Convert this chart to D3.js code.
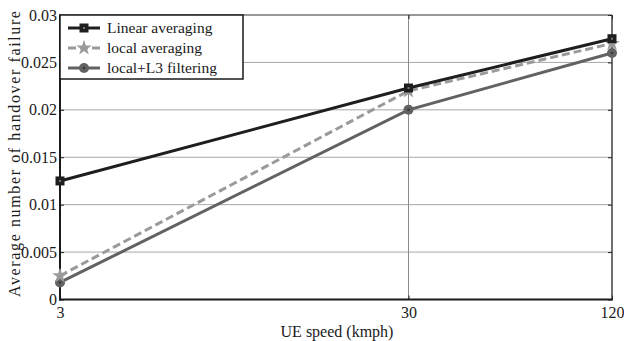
<!DOCTYPE html>
<html>
<head>
<meta charset="utf-8">
<script src="https://cdn.jsdelivr.net/npm/d3@7"></script>
<style>
  html, body { margin: 0; padding: 0; background: #fff; }
  svg { display: block; }
</style>
</head>
<body>
<svg id="chart" width="624" height="341" font-family="Liberation Serif"></svg>
<script>
// ---- data ----
const speeds = [3, 30, 120];
const xTickLabels = ["3", "30", "120"];
const yTicks = [0, 0.005, 0.01, 0.015, 0.02, 0.025, 0.03];
const yTickLabels = ["0", "0.005", "0.01", "0.015", "0.02", "0.025", "0.03"];
const seriesNames = ["Linear averaging", "local averaging", "local+L3 filtering"];
const linearAveraging = [0.0125, 0.0223, 0.0275];
const localAveraging = [0.0025, 0.0220, 0.0270];
const localL3Filtering = [0.0018, 0.0200, 0.0260];

(function () {
const FONT = "Liberation Serif";
const svg = d3.select("#chart");
const pL = 60, pR = 612, pT = 15, pB = 299.5;

const x = d3.scaleLog().domain([3, 30, 120]).range([pL, 408.5, pR]);
const y = d3.scaleLinear().domain([0, 0.03]).range([pB, pT]);

// grid
svg.append("g").selectAll("line").data(yTicks.slice(1, -1)).join("line")
  .attr("x1", pL).attr("x2", pR)
  .attr("y1", d => y(d)).attr("y2", d => y(d))
  .attr("stroke", "#a8a8a8").attr("stroke-width", 1);
svg.append("line")
  .attr("x1", x(30)).attr("x2", x(30)).attr("y1", pT).attr("y2", pB)
  .attr("stroke", "#8a8a8a").attr("stroke-width", 1);

// axes (ticks inward)
const yAxisL = d3.axisLeft(y).tickValues(yTicks).tickFormat((d, i) => yTickLabels[i]).tickSize(-4).tickPadding(3);
const yAxisR = d3.axisRight(y).tickValues(yTicks).tickFormat("").tickSize(-4);
const xAxisB = d3.axisBottom(x).tickValues(speeds).tickFormat((d, i) => xTickLabels[i]).tickSize(-4).tickPadding(4);
const xAxisT = d3.axisTop(x).tickValues(speeds).tickFormat("").tickSize(-4);

function style(g) {
  g.attr("font-family", FONT);
  g.select(".domain").remove();
  g.selectAll(".tick line").attr("stroke", "#222").attr("stroke-width", 1);
  g.selectAll(".tick text").attr("fill", "#1a1a1a").attr("font-size", 16)
    .attr("font-family", FONT);
}
svg.append("g").attr("transform", `translate(${pL},0)`).call(yAxisL).call(style);
svg.append("g").attr("transform", `translate(${pR},0)`).call(yAxisR).call(style);
const gx = svg.append("g").attr("transform", `translate(0,${pB})`).call(xAxisB).call(style);
gx.selectAll(".tick text").attr("dy", "0.9em");
svg.append("g").attr("transform", `translate(0,${pT})`).call(xAxisT).call(style);

// frame
svg.append("line").attr("x1", pL).attr("x2", pL).attr("y1", pT - 0.5).attr("y2", pB + 1)
  .attr("stroke", "#1a1a1a").attr("stroke-width", 2);
svg.append("line").attr("x1", pL - 1).attr("x2", pR + 1).attr("y1", pB).attr("y2", pB)
  .attr("stroke", "#1a1a1a").attr("stroke-width", 2);
svg.append("line").attr("x1", pL).attr("x2", pR).attr("y1", pT).attr("y2", pT)
  .attr("stroke", "#333").attr("stroke-width", 1.2);
svg.append("line").attr("x1", pR).attr("x2", pR).attr("y1", pT).attr("y2", pB)
  .attr("stroke", "#333").attr("stroke-width", 1.4);

// series
const series = [
  { name: seriesNames[0], values: linearAveraging, color: "#1e1e1e", dash: null, marker: "square" },
  { name: seriesNames[1], values: localAveraging, color: "#9a9a9a", dash: "8,4", marker: "star" },
  { name: seriesNames[2], values: localL3Filtering, color: "#626262", dash: null, marker: "circle" }
];

const line = d3.line().x(d => x(d[0])).y(d => y(d[1]));

function drawMarker(g, type, cx, cy, color) {
  if (type === "square") {
    g.append("rect").attr("x", cx - 4.5).attr("y", cy - 4.5).attr("width", 9).attr("height", 9)
      .attr("fill", color);
    g.append("rect").attr("x", cx - 1).attr("y", cy - 1).attr("width", 2).attr("height", 2)
      .attr("fill", "#777");
  } else if (type === "star") {
    g.append("path").attr("transform", `translate(${cx},${cy})`)
      .attr("d", d3.symbol(d3.symbolStar, 75)())
      .attr("fill", color);
  } else {
    g.append("circle").attr("cx", cx).attr("cy", cy).attr("r", 5).attr("fill", color);
    g.append("circle").attr("cx", cx).attr("cy", cy).attr("r", 1.3).attr("fill", "#3a3a3a");
  }
}

series.slice().reverse().forEach(s => {
  const pts = speeds.map((v, i) => [v, s.values[i]]);
  const g = svg.append("g");
  g.append("path").datum(pts).attr("d", line)
    .attr("fill", "none").attr("stroke", s.color).attr("stroke-width", 3)
    .attr("stroke-dasharray", s.dash);
  pts.forEach(p => drawMarker(g, s.marker, x(p[0]), y(p[1]), s.color));
});

// legend
const lg = svg.append("g");
lg.append("rect").attr("x", pL).attr("y", pT).attr("width", 183).attr("height", 64)
  .attr("fill", "#fff").attr("stroke", "#1a1a1a").attr("stroke-width", 1.5);
series.forEach((s, i) => {
  const cy = 28 + i * 20;
  lg.append("line").attr("x1", 68).attr("x2", 100).attr("y1", cy).attr("y2", cy)
    .attr("stroke", s.color).attr("stroke-width", 3).attr("stroke-dasharray", s.dash);
  drawMarker(lg, s.marker, 84, cy, s.color);
  lg.append("text").attr("x", 107).attr("y", cy + 5)
    .attr("font-family", FONT).attr("font-size", 15.5).attr("fill", "#1a1a1a").text(s.name);
});

// axis titles
svg.append("text").attr("x", 337).attr("y", 337)
  .attr("text-anchor", "middle").attr("font-family", FONT).attr("font-size", 16).attr("fill", "#1a1a1a")
  .text("UE speed (kmph)");
svg.append("text")
  .attr("transform", "translate(20,154) rotate(-90)")
  .attr("text-anchor", "middle").attr("font-family", FONT).attr("font-size", 16).attr("fill", "#1a1a1a")
  .attr("textLength", 286).attr("lengthAdjust", "spacing")
  .text("Average number of handover failure");
})();
</script>
</body>
</html>
